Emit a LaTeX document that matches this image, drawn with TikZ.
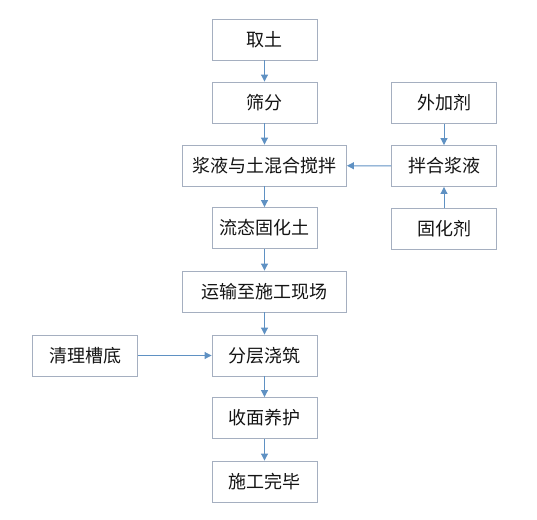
\documentclass[tikz,border=0pt]{standalone}
\usepackage{fontspec}
\setmainfont{Noto Sans CJK SC}
\usetikzlibrary{arrows.meta}
\definecolor{boxline}{RGB}{165,175,192}
\definecolor{arrowc}{RGB}{95,145,195}
\definecolor{txt}{RGB}{20,20,20}
\begin{document}
\begin{tikzpicture}[x=1pt,y=-1pt,
  box/.style={draw=boxline,line width=0.9pt,fill=white,minimum height=41pt,inner sep=0pt,text=txt,font=\fontsize{18}{21}\selectfont},
  narrow/.style={box,minimum width=105pt},
  wide/.style={box,minimum width=164pt},
  arr/.style={draw=arrowc,line width=1pt,-{Triangle[length=7pt,width=7pt]}}]
\useasboundingbox (0,0) rectangle (537,519);
\node[narrow] (a) at (264.5,39.5) {取土};
\node[narrow] (b) at (264.5,102.5) {筛分};
\node[wide] (c) at (264.5,165.5) {浆液与土混合搅拌};
\node[narrow] (d) at (264.5,228) {流态固化土};
\node[wide] (e) at (264.5,291.5) {运输至施工现场};
\node[narrow] (f) at (264.5,355.5) {分层浇筑};
\node[narrow] (g) at (264.5,418) {收面养护};
\node[narrow] (h) at (264.5,481.5) {施工完毕};
\node[narrow] (p) at (444,103) {外加剂};
\node[narrow] (q) at (444,166) {拌合浆液};
\node[narrow] (r) at (444,228.5) {固化剂};
\node[narrow] (s) at (85,355.5) {清理槽底};
\draw[arr] (a) -- (b);
\draw[arr] (b) -- (c);
\draw[arr] (c) -- (d);
\draw[arr] (d) -- (e);
\draw[arr] (e) -- (f);
\draw[arr] (f) -- (g);
\draw[arr] (g) -- (h);
\draw[arr] (p) -- (q);
\draw[arr] (r) -- (q);
\draw[arr] (q) -- (c);
\draw[arr] (s) -- (f);
\end{tikzpicture}
\end{document}
